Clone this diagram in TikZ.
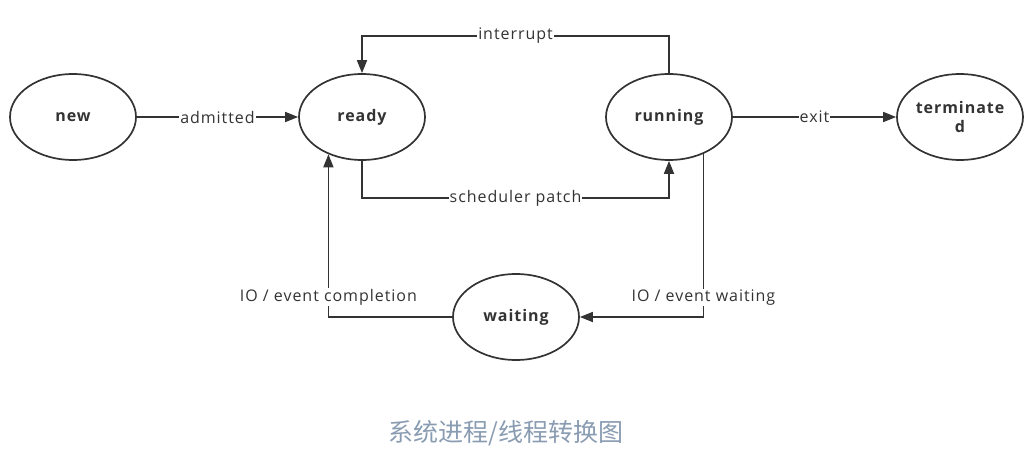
\documentclass[tikz,border=0pt]{standalone}
\usepackage{fontspec}
\setmainfont{Open Sans}[LetterSpace=6]
\newfontfamily\cjk{Noto Sans CJK SC}
\usetikzlibrary{shapes,arrows,arrows.meta}
\definecolor{linegray}{HTML}{333333}
\definecolor{captiongray}{HTML}{8A9CB2}

\begin{document}
\begin{tikzpicture}[x=1pt,y=-1pt,
  state/.style={draw=linegray, line width=1.7pt, ellipse, minimum width=126pt, minimum height=86pt,
    inner sep=0pt, align=center, text=linegray, font=\bfseries\fontsize{16}{19}\selectfont},
  trans/.style={draw=linegray, line width=1.7pt, -{Triangle[length=13pt,width=10pt]}},
  lbl/.style={fill=white, inner sep=1pt, text=linegray, font=\fontsize{16}{19}\selectfont}]
\useasboundingbox (0,0) rectangle (1031,453);
% states
\node[state] (new) at (73,117) {new};
\node[state] (ready) at (362,117) {ready};
\node[state] (running) at (669,117) {running};
\node[state] (term) at (960,117) {terminate\\d};
\node[state] (waiting) at (516,317) {waiting};
\coordinate (top) at (0,36);
\coordinate (low) at (0,198);
% transitions
\draw[trans] (new) -- node[lbl] {admitted} (ready);
\draw[trans] (running) -- node[lbl] {exit} (term);
\draw[trans] (running.north) -- (running.north |- top) -| node[lbl, pos=0.25] {interrupt} (ready.north);
\draw[trans] (ready.south) -- (ready.south |- low) -| node[lbl, pos=0.25] {scheduler patch} (running.south);
\draw[trans] (running.-47) |- node[lbl, pos=0.44] {IO / event waiting} (waiting.east);
\draw[trans] (waiting.west) -| node[lbl, pos=0.56] {IO / event completion} (ready.-132);
% caption
\node[text=captiongray, font=\cjk\fontsize{25}{28}\selectfont] (caption) at (506,433) {系统进程/线程转换图};
\end{tikzpicture}
\end{document}
